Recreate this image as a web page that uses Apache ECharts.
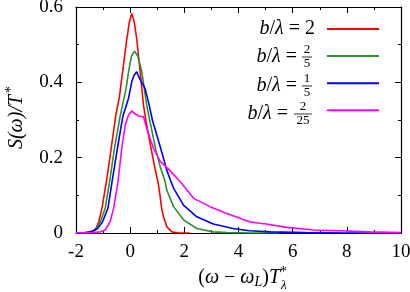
<!DOCTYPE html>
<html><head><meta charset="utf-8">
<script src="https://cdn.jsdelivr.net/npm/echarts@6/dist/echarts.min.js"></script>
<style>html,body{margin:0;padding:0;background:#fff}#c{width:410px;height:292px}</style>
</head><body><div id="c"></div>
<script>
// ---- data ----
const seriesNames = ['b/λ = 2', 'b/λ = 2/5', 'b/λ = 1/5', 'b/λ = 2/25'];
const seriesColors = ['#ff0000', '#2a922a', '#0000ff', '#ff00ff'];

const redX = [-2, -1.7, -1.5, -1.29, -1.16, -1.04, -0.88, -0.7, -0.53, -0.4, -0.28, -0.12, -0.03, 0.06, 0.15, 0.24, 0.37, 0.49, 0.6, 0.73, 0.92, 1.04, 1.11, 1.16, 1.23, 1.35, 1.54, 1.8, 2.2];
const redY = [0, 0.001, 0.003, 0.008, 0.03, 0.066, 0.136, 0.225, 0.313, 0.36, 0.428, 0.517, 0.56, 0.583, 0.56, 0.517, 0.428, 0.34, 0.29, 0.24, 0.17, 0.13, 0.096, 0.066, 0.043, 0.017, 0.003, 0, 0];

const greenX = [-2, -1.6, -1.4, -1.25, -1.1, -0.92, -0.76, -0.58, -0.37, -0.15, -0.06, 0.05, 0.16, 0.28, 0.43, 0.61, 0.72, 0.95, 1.11, 1.29, 1.35, 1.6, 1.97, 2.46, 3.07, 3.6, 4.5, 5.5];
const greenY = [0, 0.001, 0.004, 0.012, 0.03, 0.066, 0.136, 0.225, 0.31, 0.384, 0.428, 0.47, 0.483, 0.47, 0.428, 0.34, 0.3, 0.22, 0.176, 0.136, 0.114, 0.07, 0.035, 0.012, 0.003, 0.001, 0, 0];

const blueX = [-2, -1.6, -1.4, -1.2, -1.02, -0.82, -0.67, -0.47, -0.27, -0.06, 0.06, 0.14, 0.24, 0.35, 0.55, 0.7, 0.82, 1.11, 1.35, 1.6, 1.97, 2.46, 3.07, 3.8, 4.4, 5.2, 6.5, 8, 10];
const blueY = [0, 0.001, 0.004, 0.012, 0.03, 0.066, 0.136, 0.225, 0.31, 0.358, 0.402, 0.418, 0.428, 0.41, 0.384, 0.34, 0.3, 0.229, 0.167, 0.119, 0.074, 0.043, 0.024, 0.012, 0.006, 0.003, 0.001, 0, 0];

const magX = [-2, -1.4, -1.1, -0.92, -0.74, -0.61, -0.45, -0.31, -0.18, -0.06, 0.06, 0.2, 0.35, 0.49, 0.6, 0.86, 1.11, 1.48, 1.85, 2.34, 2.95, 3.57, 4.06, 4.4, 4.79, 5.04, 5.78, 6.76, 7.75, 8.86, 10];
const magY = [0, 0.001, 0.003, 0.008, 0.03, 0.066, 0.136, 0.225, 0.287, 0.313, 0.324, 0.315, 0.31, 0.309, 0.28, 0.225, 0.19, 0.165, 0.136, 0.092, 0.07, 0.052, 0.039, 0.03, 0.026, 0.024, 0.015, 0.008, 0.006, 0.003, 0.001];

const xMin = -2, xMax = 10, xStep = 2;
const yMin = 0, yMax = 0.6, yStep = 0.2;

// ---- chart ----
const FONT = 'Liberation Serif';
const zip = (xs, ys) => xs.map((x, i) => [x, ys[i]]);
const allX = [redX, greenX, blueX, magX];
const allY = [redY, greenY, blueY, magY];

const axisCommon = {
  axisLine: { show: true, onZero: false, lineStyle: { color: '#000', width: 1.2 } },
  axisTick: { show: true, inside: true, length: 6, lineStyle: { color: '#000', width: 1 } },
  minorTick: { show: true, splitNumber: 2, length: 3, lineStyle: { color: '#000', width: 1 } },
  splitLine: { show: false },
  minorSplitLine: { show: false }
};
const labelStyle = { color: '#000', fontFamily: FONT, fontSize: 19 };
const ital = { fontStyle: 'italic', fontFamily: FONT, fontSize: 20 };

const chart = echarts.init(document.getElementById('c'), null, { renderer: 'canvas' });
chart.setOption({
  animation: false,
  backgroundColor: '#fff',
  grid: { left: 76, right: 9, top: 7, bottom: 59, outerBoundsMode: 'none' },
  xAxis: [
    Object.assign({ type: 'value', min: xMin, max: xMax, interval: xStep, position: 'bottom',
      axisLabel: Object.assign({ margin: 10 }, labelStyle) }, axisCommon),
    Object.assign({ type: 'value', min: xMin, max: xMax, interval: xStep, position: 'top',
      axisLabel: { show: false } }, axisCommon)
  ],
  yAxis: [
    Object.assign({ type: 'value', min: yMin, max: yMax, interval: yStep, position: 'left',
      axisLabel: Object.assign({ margin: 13 }, labelStyle) }, axisCommon),
    Object.assign({ type: 'value', min: yMin, max: yMax, interval: yStep, position: 'right',
      axisLabel: { show: false } }, axisCommon)
  ],
  legend: {
    orient: 'vertical', left: 326, top: 22, padding: 0,
    itemWidth: 52, itemHeight: 14, itemGap: 14.5,
    itemStyle: { opacity: 0 },
    formatter: () => '', textStyle: { fontSize: 8 },
    data: seriesNames
  },
  series: seriesNames.map((name, i) => ({
    name, type: 'line', xAxisIndex: 0, yAxisIndex: 0,
    data: zip(allX[i], allY[i]),
    showSymbol: false, symbol: 'none',
    lineStyle: { color: seriesColors[i], width: 1.6 },
    itemStyle: { color: seriesColors[i] },
    clip: true
  })),
  graphic: [
    // legend labels
    { type: 'text', x: 315, y: 29, style: { text: '{i|b}/{i|λ} = 2', align: 'right', verticalAlign: 'middle',
      font: '20px ' + FONT, fill: '#000', rich: { i: ital } } },
    { type: 'text', x: 297, y: 57, style: { text: '{i|b}/{i|λ} =', align: 'right', verticalAlign: 'middle',
      font: '20px ' + FONT, fill: '#000', rich: { i: ital } } },
    { type: 'text', x: 307, y: 50, style: { text: '2', align: 'center', verticalAlign: 'middle', font: '13px ' + FONT, fill: '#000' } },
    { type: 'line', shape: { x1: 302, y1: 57, x2: 312, y2: 57 }, style: { stroke: '#000', lineWidth: 0.8 } },
    { type: 'text', x: 307, y: 64, style: { text: '5', align: 'center', verticalAlign: 'middle', font: '13px ' + FONT, fill: '#000' } },
    { type: 'text', x: 297, y: 86, style: { text: '{i|b}/{i|λ} =', align: 'right', verticalAlign: 'middle',
      font: '20px ' + FONT, fill: '#000', rich: { i: ital } } },
    { type: 'text', x: 307, y: 79, style: { text: '1', align: 'center', verticalAlign: 'middle', font: '13px ' + FONT, fill: '#000' } },
    { type: 'line', shape: { x1: 302, y1: 86, x2: 312, y2: 86 }, style: { stroke: '#000', lineWidth: 0.8 } },
    { type: 'text', x: 307, y: 93, style: { text: '5', align: 'center', verticalAlign: 'middle', font: '13px ' + FONT, fill: '#000' } },
    { type: 'text', x: 288, y: 114, style: { text: '{i|b}/{i|λ} =', align: 'right', verticalAlign: 'middle',
      font: '20px ' + FONT, fill: '#000', rich: { i: ital } } },
    { type: 'text', x: 303, y: 107, style: { text: '2', align: 'center', verticalAlign: 'middle', font: '13px ' + FONT, fill: '#000' } },
    { type: 'line', shape: { x1: 294, y1: 114, x2: 312, y2: 114 }, style: { stroke: '#000', lineWidth: 0.8 } },
    { type: 'text', x: 303, y: 121, style: { text: '25', align: 'center', verticalAlign: 'middle', font: '13px ' + FONT, fill: '#000' } },
    // x axis title
    { type: 'text', x: 280, y: 278, style: { text: '({i|ω} − {i|ω}{s|L}){i|T}', align: 'right', verticalAlign: 'middle',
      font: '20px ' + FONT, fill: '#000',
      rich: { s: { fontStyle: 'italic', fontFamily: FONT, fontSize: 14, verticalAlign: 'bottom', padding: [8, 0, 0, 0] },
              i: ital } } },
    { type: 'text', x: 280, y: 272, style: { text: '*', align: 'left', verticalAlign: 'middle', font: '14px ' + FONT, fill: '#000' } },
    { type: 'text', x: 281, y: 286, style: { text: 'λ', align: 'left', verticalAlign: 'middle', font: 'italic 13px ' + FONT, fill: '#000' } },
    // y axis title
    { type: 'group', x: 17, y: 124, rotation: Math.PI / 2, children: [
      { type: 'text', x: 2, y: 0, style: { text: 'S(ω)/T', align: 'center', verticalAlign: 'middle', font: 'italic 20px ' + FONT, fill: '#000' } },
      { type: 'text', x: 31, y: -6, style: { text: '*', align: 'left', verticalAlign: 'middle', font: '14px ' + FONT, fill: '#000' } }
    ] }
  ]
});
</script></body></html>
